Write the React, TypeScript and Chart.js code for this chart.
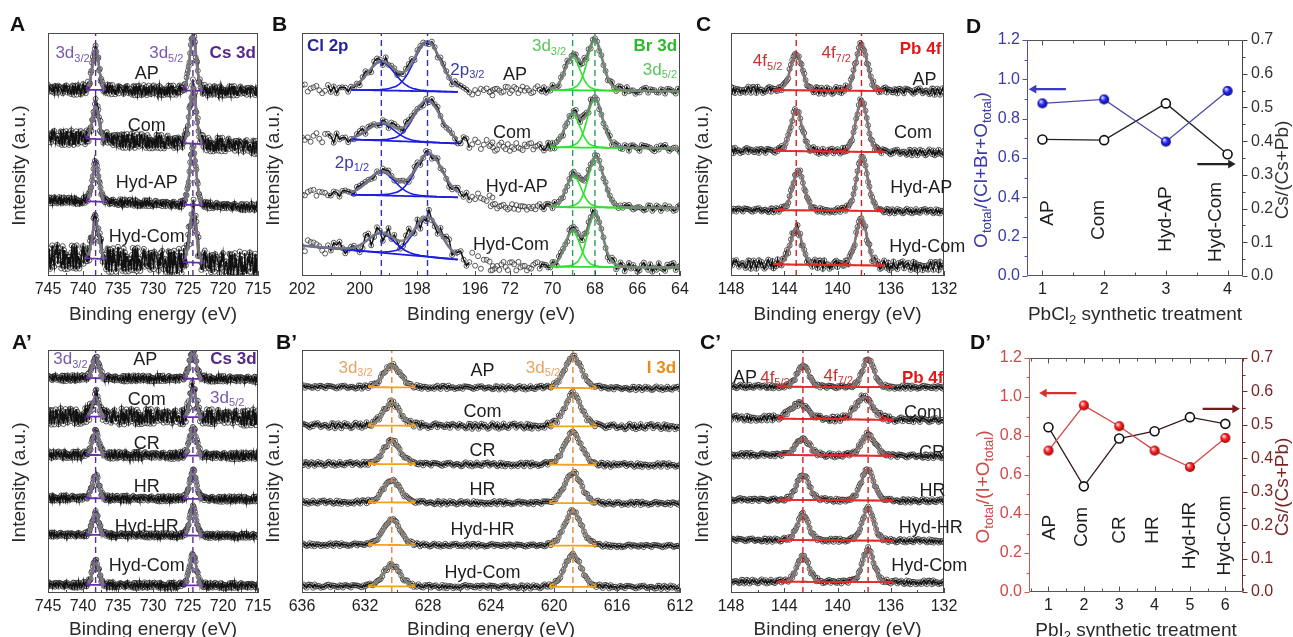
import React, { useEffect, useRef } from 'react';
import { Chart, registerables } from 'chart.js';

Chart.register(...registerables);
const FONT = '"Liberation Sans", Arial, Helvetica, sans-serif';
Chart.defaults.font.family = FONT;

/* ============================ DATA ============================ */

// Normalised line shape of the fitted components (offset in half-widths -> relative height)
const SHAPE_U = [0, 0.25, 0.5, 0.75, 1, 1.25, 1.5, 1.75, 2, 2.5, 3, 4];
const SHAPE_V = [1, 0.955, 0.835, 0.672, 0.5, 0.345, 0.225, 0.14, 0.085, 0.035, 0.015, 0];

// Counting scatter of the raw traces (fractions of each trace's scatter amplitude)
const SCATTER = [
  0.42, -0.71, 0.15, 0.88, -0.33, -0.95, 0.61, 0.07, -0.52, 0.29,
  -0.18, 0.76, -0.84, 0.33, 0.55, -0.27, -0.63, 0.91, -0.05, 0.38,
  -0.79, 0.12, 0.67, -0.41, 0.24, -0.92, 0.49, 0.81, -0.14, -0.58,
  0.35, -0.22, 0.73, -0.67, 0.04, 0.96, -0.37, -0.81, 0.58, 0.19,
  -0.46, 0.84, -0.09, 0.27, -0.74, 0.63, -0.31, 0.11, 0.92, -0.56,
  0.21, -0.88, 0.45, 0.69, -0.12, -0.49, 0.78, -0.26, 0.36, -0.97,
  0.53, 0.08, -0.65, 0.31, 0.86, -0.39, -0.17, 0.71, -0.83, 0.26,
  0.6, -0.44, 0.02, -0.71, 0.94, 0.17, -0.29, 0.48, -0.61, 0.83,
  -0.07, 0.39, -0.9, 0.64, 0.13, -0.53, 0.77, -0.35, 0.22, -0.19,
  0.51, -0.76, 0.87, 0.05, -0.43, 0.66, -0.24, 0.32, -0.86, 0.44, 0.1,
];

// ---- A : Cs 3d (PbCl2 series) ----
const A_SAMPLES = ['AP', 'Com', 'Hyd-AP', 'Hyd-Com'];
const A_TICKS = [745, 740, 735, 730, 725, 720, 715];
const A_POS_32 = [738.2, 738.2, 738.2, 738.2];
const A_POS_52 = [724.3, 724.3, 724.3, 724.3];
const A_H_32 = [16.7, 13.6, 16.0, 15.9];
const A_H_52 = [23.0, 23.4, 24.0, 21.6];
const A_BG_HI = [76.8, 57.3, 31.3, 7.9];
const A_BG_LO = [76.0, 53.2, 28.3, 4.5];
const A_HWHM = [0.55, 0.55, 0.55, 0.55];
const A_SCAT = [2.2, 3.2, 1.4, 5.5];
const A_NAME_Y = [83.1, 61.7, 38.1, 16.2];

// ---- B : Cl 2p + Br 3d (PbCl2 series) ----
const B_SAMPLES = ['AP', 'Com', 'Hyd-AP', 'Hyd-Com'];
const B_CL_TICKS = [202, 200, 198, 196];
const B_BR_TICKS = [72, 70, 68, 66, 64];
const CL_POS_12 = [199.25, 199.25, 199.25, 199.25];
const CL_POS_32 = [197.65, 197.65, 197.6, 197.65];
const CL_H_12 = [11.8, 7.0, 9.7, 8.0];
const CL_H_32 = [20.4, 17.4, 17.8, 16.5];
const CL_BG_HI = [77.0, 57.0, 34.0, 12.5];
const CL_BG_LO = [75.5, 54.0, 32.0, 5.5];
const CL_HWHM = [0.55, 0.55, 0.55, 0.55];
const CL_SCAT = [2.0, 2.2, 1.8, 3.5];
const CL_FIT_HI = [200.3, 200.3, 200.3, 202.0];
const BR_POS_32 = [69.05, 69.05, 69.0, 69.05];
const BR_POS_52 = [68.0, 68.0, 67.95, 68.0];
const BR_H_32 = [13.6, 13.7, 12.8, 14.7];
const BR_H_52 = [20.6, 20.1, 20.6, 21.9];
const BR_BG_HI = [76.8, 53.2, 28.5, 4.0];
const BR_BG_LO = [76.0, 52.5, 28.0, 3.5];
const BR_HWHM = [0.42, 0.42, 0.42, 0.42];
const BR_SCAT = [1.5, 1.8, 1.3, 2.0];
const B_NAME_E = [71.76, 71.9, 71.68, 71.95];
const B_NAME_Y = [82.7, 59.0, 36.7, 12.8];

// ---- C : Pb 4f (PbCl2 series) ----
const C_SAMPLES = ['AP', 'Com', 'Hyd-AP', 'Hyd-Com'];
const C_TICKS = [148, 144, 140, 136, 132];
const PB_POS_52 = [143.1, 143.1, 142.95, 143.1];
const PB_POS_72 = [138.2, 138.2, 138.15, 138.2];
const PB_H_52 = [15.3, 17.1, 16.7, 15.1];
const PB_H_72 = [19.4, 21.2, 22.2, 19.2];
const PB_BG_HI = [76.6, 51.6, 27.2, 5.0];
const PB_BG_LO = [76.0, 50.8, 26.6, 4.0];
const PB_HWHM = [0.5, 0.5, 0.5, 0.5];
const PB_SCAT = [1.5, 1.3, 1.0, 2.0];
const C_NAME_E = [133.47, 134.33, 133.7, 133.25];
const C_NAME_Y = [80.7, 58.7, 36.1, 12.1];

// ---- D : ratios (PbCl2 series) ----
const D_X = [1, 2, 3, 4];
const D_CATS = ['AP', 'Com', 'Hyd-AP', 'Hyd-Com'];
const D_O = [0.878, 0.898, 0.683, 0.941];
const D_CS = [0.405, 0.403, 0.512, 0.361];
const D_CAT_X = [1.08, 1.92, 3.0, 3.81];
const D_CAT_Y = [0.32, 0.285, 0.29, 0.275];
const D_LEFT_TICKS = [0, 0.2, 0.4, 0.6, 0.8, 1.0, 1.2];
const D_RIGHT_TICKS = [0, 0.1, 0.2, 0.3, 0.4, 0.5, 0.6, 0.7];

// ---- A' : Cs 3d (PbI2 series) ----
const P_SAMPLES = ['AP', 'Com', 'CR', 'HR', 'Hyd-HR', 'Hyd-Com'];
const A2_POS_32 = [738.2, 738.2, 738.2, 738.2, 738.2, 738.2];
const A2_POS_52 = [724.3, 724.3, 724.3, 724.3, 724.3, 724.3];
const A2_H_32 = [8.5, 8.3, 9.6, 9.6, 8.9, 9.9];
const A2_H_52 = [11.5, 11.4, 11.7, 11.6, 11.7, 13.1];
const A2_BG_HI = [88.5, 72.7, 56.9, 39.1, 24.0, 3.4];
const A2_BG_LO = [88.0, 72.2, 56.4, 38.6, 23.5, 3.0];
const A2_HWHM = [0.55, 0.55, 0.55, 0.55, 0.55, 0.55];
const A2_SCAT = [1.3, 3.5, 1.5, 1.2, 1.0, 1.2];
const A2_NAME_Y = [96.0, 79.5, 61.3, 43.5, 27.0, 11.0];

// ---- B' : I 3d (PbI2 series) ----
const BP_TICKS = [636, 632, 628, 624, 620, 616, 612];
const I_POS_32 = [630.3, 630.3, 630.3, 630.3, 630.3, 630.3];
const I_POS_52 = [618.8, 618.8, 618.8, 618.8, 618.8, 618.8];
const I_H_32 = [9.2, 9.6, 9.5, 9.2, 10.6, 8.9];
const I_H_52 = [13.0, 13.3, 13.3, 12.7, 14.4, 13.2];
const I_BG_HI = [84.8, 69.0, 53.2, 37.4, 19.9, 2.8];
const I_BG_LO = [84.2, 68.4, 52.6, 36.8, 19.3, 2.4];
const I_HWHM = [0.62, 0.62, 0.62, 0.62, 0.62, 0.62];
const I_SCAT = [0.8, 1.2, 0.9, 0.8, 0.7, 0.8];
const BP_NAME_Y = [91.2, 74.4, 58.6, 42.5, 26.1, 8.2];

// ---- C' : Pb 4f (PbI2 series) ----
const PB2_POS_52 = [142.6, 142.9, 142.6, 142.6, 142.6, 142.6];
const PB2_POS_72 = [137.7, 138.0, 137.7, 137.75, 137.7, 137.7];
const PB2_H_52 = [9.0, 6.2, 6.9, 10.6, 10.6, 11.0];
const PB2_H_72 = [11.7, 9.4, 8.9, 12.8, 13.4, 13.7];
const PB2_BG_HI = [85.0, 72.0, 56.9, 38.4, 21.9, 4.8];
const PB2_BG_LO = [84.6, 71.0, 56.3, 37.9, 21.4, 4.3];
const PB2_HWHM = [0.5, 0.75, 0.6, 0.55, 0.5, 0.5];
const PB2_SCAT = [0.8, 1.2, 0.9, 0.8, 0.8, 0.9];
const CP_NAME_E = [147.85, 133.58, 132.9, 132.87, 133.0, 133.1];
const CP_NAME_Y = [88.5, 74.0, 57.6, 41.9, 26.7, 11.0];

// ---- D' : ratios (PbI2 series) ----
const D2_X = [1, 2, 3, 4, 5, 6];
const D2_CATS = ['AP', 'Com', 'CR', 'HR', 'Hyd-HR', 'Hyd-Com'];
const D2_O = [0.725, 0.957, 0.85, 0.725, 0.641, 0.79];
const D2_CS = [0.493, 0.316, 0.459, 0.481, 0.523, 0.503];
const D2_CAT_X = [1.03, 1.93, 3.01, 3.95, 4.99, 5.98];
const D2_CAT_Y = [0.331, 0.333, 0.318, 0.318, 0.29, 0.29];

/* ============================ HELPERS ============================ */

function lineShape(u: number): number {
  const a = Math.abs(u);
  const n = SHAPE_U.length;
  if (a >= SHAPE_U[n - 1]) return 0;
  for (let i = 1; i < n; i++) {
    if (a <= SHAPE_U[i]) {
      const t = (a - SHAPE_U[i - 1]) / (SHAPE_U[i] - SHAPE_U[i - 1]);
      return SHAPE_V[i - 1] + t * (SHAPE_V[i] - SHAPE_V[i - 1]);
    }
  }
  return 0;
}

function energies(hi: number, lo: number, step: number): number[] {
  const n = Math.round((hi - lo) / step);
  const out: number[] = [];
  for (let i = 0; i <= n; i++) out.push(+(hi - i * step).toFixed(4));
  return out;
}

type Ann = { t: string; x: number; y: number; c?: string; s?: number; b?: boolean; a?: 'left' | 'center' | 'right' };

type Region = {
  hi: number; lo: number; step: number;
  lineHi: number; lineLo: number;
  fitHi: number[]; fitLo: number;
  pos: number[][]; h: number[][];
  bgHi: number[]; bgLo: number[];
  hwhm: number[]; scat: number[];
  envSpan: number | null; compSpan: number | null;
  compColor: string; dashColor: string; dashAt: number[];
  map: (e: number) => number; seed: number;
};

type Panel = {
  l: number; r: number; row: 1 | 2;
  xMin: number; xMax: number; reverse: boolean;
  ticks: { v: number; label: string }[]; minor: number[];
  regions: Region[]; texts: Ann[];
};

function buildRegion(r: Region): any[] {
  const out: any[] = [];
  for (let k = 0; k < r.bgHi.length; k++) {
    const bg = (e: number) => r.bgHi[k] + (r.bgLo[k] - r.bgHi[k]) * (r.hi - e) / (r.hi - r.lo);
    const comp = (p: number, e: number) => r.h[p][k] * lineShape((e - r.pos[p][k]) / r.hwhm[k]);
    const env = (e: number) => {
      let s = bg(e);
      for (let p = 0; p < r.pos.length; p++) s += comp(p, e);
      return s;
    };
    const es = energies(r.hi, r.lo, r.step);
    const raw = es.map((e, i) => ({
      x: r.map(e),
      y: env(e) + r.scat[k] * SCATTER[(i * 37 + Math.floor(i / 101) * 13 + k * 23 + r.seed) % SCATTER.length],
    }));
    const trace = raw.filter((_, i) => es[i] <= r.lineHi + 1e-6 && es[i] >= r.lineLo - 1e-6);
    out.push({
      data: raw, showLine: false, pointRadius: 2.5, pointBorderWidth: 0.8,
      pointBorderColor: 'rgba(30,30,30,0.9)', pointBackgroundColor: 'rgba(255,255,255,0.25)', order: 6,
    });
    out.push({ data: trace, showLine: true, borderColor: '#111', borderWidth: 1.5, pointRadius: 0, order: 5 });

    // fitted background + components (coloured)
    const compRanges = r.compSpan === null
      ? [[r.fitHi[k], r.fitLo]]
      : r.pos.map((pk) => [pk[k] + (r.compSpan as number), pk[k] - (r.compSpan as number)]);
    for (const [h, l] of compRanges) {
      out.push({
        data: energies(h, l, r.step).map((e) => ({ x: r.map(e), y: bg(e) })),
        showLine: true, borderColor: r.compColor, borderWidth: 1.8, pointRadius: 0, order: 4,
      });
    }
    for (let p = 0; p < r.pos.length; p++) {
      const [h, l] = r.compSpan === null ? compRanges[0] : compRanges[p];
      out.push({
        data: energies(h, l, r.step / 2).map((e) => ({ x: r.map(e), y: bg(e) + comp(p, e) })),
        showLine: true, borderColor: r.compColor, borderWidth: 1.6, pointRadius: 0, order: 4,
      });
    }
    // fitted envelope (grey)
    const envRanges = r.envSpan === null
      ? [[r.fitHi[k], r.fitLo]]
      : r.pos.map((pk) => [pk[k] + (r.envSpan as number), pk[k] - (r.envSpan as number)]);
    for (const [h, l] of envRanges) {
      out.push({
        data: energies(h, l, r.step / 2).map((e) => ({ x: r.map(e), y: env(e) })),
        showLine: true, borderColor: 'rgba(125,125,125,0.88)', borderWidth: 2.7, pointRadius: 0, order: 3,
      });
    }
  }
  for (const d of r.dashAt) {
    out.push({
      data: [{ x: r.map(d), y: 0 }, { x: r.map(d), y: 100 }], showLine: true,
      borderColor: r.dashColor, borderWidth: 1.4, borderDash: [6, 4], pointRadius: 0, order: 1,
    });
  }
  return out;
}

function parseRich(t: string) {
  const segs: { t: string; sub: boolean; w?: number }[] = [];
  const re = /_\{([^}]*)\}/g;
  let last = 0;
  let m: RegExpExecArray | null;
  while ((m = re.exec(t))) {
    if (m.index > last) segs.push({ t: t.slice(last, m.index), sub: false });
    segs.push({ t: m[1], sub: true });
    last = re.lastIndex;
  }
  if (last < t.length) segs.push({ t: t.slice(last), sub: false });
  return segs;
}

function drawRich(ctx: CanvasRenderingContext2D, text: string, x: number, y: number,
  o: { size: number; color: string; bold?: boolean; align?: string; rot?: number }) {
  const segs = parseRich(text);
  const fontOf = (sub: boolean) => `${o.bold ? 'bold ' : ''}${sub ? Math.round(o.size * 0.66) : o.size}px ${FONT}`;
  let w = 0;
  for (const s of segs) { ctx.font = fontOf(s.sub); s.w = ctx.measureText(s.t).width; w += s.w; }
  ctx.save();
  ctx.translate(x, y);
  if (o.rot) ctx.rotate(o.rot);
  let cx = o.align === 'left' ? 0 : o.align === 'right' ? -w : -w / 2;
  ctx.fillStyle = o.color;
  ctx.textBaseline = 'middle';
  ctx.textAlign = 'left';
  for (const s of segs) {
    ctx.font = fontOf(s.sub);
    ctx.fillText(s.t, cx, s.sub ? o.size * 0.3 : 0);
    cx += s.w as number;
  }
  ctx.restore();
}

function seg(ctx: CanvasRenderingContext2D, x1: number, y1: number, x2: number, y2: number, color: string, w = 1) {
  ctx.strokeStyle = color;
  ctx.lineWidth = w;
  ctx.beginPath();
  ctx.moveTo(x1, y1);
  ctx.lineTo(x2, y2);
  ctx.stroke();
}

const names = (list: string[], xs: number[], ys: number[], a?: 'left' | 'center' | 'right'): Ann[] =>
  list.map((t, i) => ({ t, x: xs[i], y: ys[i], s: 18, c: '#1e1e1e', a }));
const list0 = (n: number) => Array.from({ length: n }, (_, i) => i);
const same = (v: number, n: number) => list0(n).map(() => v);

/* ============================ PANELS ============================ */

const id = (e: number) => e;
const CL_END = 0.458;   // fraction of the broken axis used by the Cl 2p segment
const BR_START = 0.55;  // fraction where the Br 3d segment begins
const uCl = (e: number) => (B_CL_TICKS[0] - e) / (B_CL_TICKS[0] - B_CL_TICKS[3]) * CL_END;
const uBr = (e: number) => BR_START + (B_BR_TICKS[0] - e) / (B_BR_TICKS[0] - B_BR_TICKS[4]) * (1 - BR_START);

const PURPLE_T = '#7b5aa9';
const PURPLE_B = '#56288a';

const panelA: Panel = {
  l: 48, r: 258, row: 1, xMin: 715, xMax: 745, reverse: true,
  ticks: A_TICKS.map((v) => ({ v, label: String(v) })),
  minor: [742.5, 737.5, 732.5, 727.5, 722.5, 717.5],
  regions: [{
    hi: 745, lo: 715, step: 0.1, lineHi: 745, lineLo: 715, fitHi: same(740, 4), fitLo: 722,
    pos: [A_POS_32, A_POS_52], h: [A_H_32, A_H_52], bgHi: A_BG_HI, bgLo: A_BG_LO,
    hwhm: A_HWHM, scat: A_SCAT, envSpan: 1.1, compSpan: 1.4,
    compColor: '#6a2fb0', dashColor: '#5a2d91', dashAt: [738.2, 724.3], map: id, seed: 3,
  }],
  texts: [
    { t: '3d_{3/2}', x: 741.5, y: 91.6, c: PURPLE_T, s: 17 },
    { t: '3d_{5/2}', x: 728.1, y: 91.6, c: PURPLE_T, s: 17 },
    { t: 'Cs 3d', x: 715.3, y: 91.6, c: PURPLE_B, s: 17, b: true, a: 'right' },
    ...names(A_SAMPLES, same(730.9, 4), A_NAME_Y),
  ],
};

const panelB: Panel = {
  l: 302, r: 680, row: 1, xMin: 0, xMax: 1, reverse: false,
  ticks: [
    ...B_CL_TICKS.map((v) => ({ v: uCl(v), label: String(v) })),
    ...B_BR_TICKS.map((v) => ({ v: uBr(v), label: String(v) })),
  ],
  minor: [...[201, 199, 197].map(uCl), ...[71, 69, 67, 65].map(uBr)],
  regions: [
    {
      hi: 202, lo: 195.4, step: 0.1, lineHi: 201.1, lineLo: 196.2, fitHi: CL_FIT_HI, fitLo: 196.6,
      pos: [CL_POS_12, CL_POS_32], h: [CL_H_12, CL_H_32], bgHi: CL_BG_HI, bgLo: CL_BG_LO,
      hwhm: CL_HWHM, scat: CL_SCAT, envSpan: null, compSpan: null,
      compColor: '#1e1ee0', dashColor: '#3030b8', dashAt: [199.25, 197.65], map: uCl, seed: 11,
    },
    {
      hi: 72.9, lo: 64, step: 0.1, lineHi: 70.6, lineLo: 64, fitHi: same(70.1, 4), fitLo: 64,
      pos: [BR_POS_32, BR_POS_52], h: [BR_H_32, BR_H_52], bgHi: BR_BG_HI, bgLo: BR_BG_LO,
      hwhm: BR_HWHM, scat: BR_SCAT, envSpan: null, compSpan: null,
      compColor: '#2fe02f', dashColor: '#2e9e5e', dashAt: [69.05, 68.0], map: uBr, seed: 29,
    },
  ],
  texts: [
    { t: 'Cl 2p', x: uCl(201.83), y: 94.4, c: '#26269a', s: 17, b: true, a: 'left' },
    { t: '2p_{3/2}', x: uCl(196.27), y: 84.8, c: '#3b3ba8', s: 17 },
    { t: '2p_{1/2}', x: uCl(200.27), y: 46.4, c: '#3b3ba8', s: 17 },
    { t: '3d_{3/2}', x: uBr(70.16), y: 94.4, c: '#5cc45c', s: 17 },
    { t: 'Br 3d', x: uBr(64.14), y: 94.4, c: '#2cb82c', s: 17, b: true, a: 'right' },
    { t: '3d_{5/2}', x: uBr(64.14), y: 84.8, c: '#5cc45c', s: 17, a: 'right' },
    ...names(B_SAMPLES, B_NAME_E.map(uBr), B_NAME_Y),
  ],
};

const panelC: Panel = {
  l: 731, r: 944, row: 1, xMin: 132, xMax: 148, reverse: true,
  ticks: C_TICKS.map((v) => ({ v, label: String(v) })),
  minor: [146, 142, 138, 134],
  regions: [{
    hi: 148, lo: 132, step: 0.1, lineHi: 148, lineLo: 132, fitHi: same(144.8, 4), fitLo: 136.5,
    pos: [PB_POS_52, PB_POS_72], h: [PB_H_52, PB_H_72], bgHi: PB_BG_HI, bgLo: PB_BG_LO,
    hwhm: PB_HWHM, scat: PB_SCAT, envSpan: 1.1, compSpan: null,
    compColor: '#e42a2a', dashColor: '#d42020', dashAt: [143.1, 138.2], map: id, seed: 41,
  }],
  texts: [
    { t: '4f_{5/2}', x: 145.25, y: 88.2, c: '#c83232', s: 17 },
    { t: '4f_{7/2}', x: 140.1, y: 91.6, c: '#c83232', s: 17 },
    { t: 'Pb 4f', x: 132.2, y: 93.3, c: '#e01818', s: 17, b: true, a: 'right' },
    ...names(C_SAMPLES, C_NAME_E, C_NAME_Y),
  ],
};

const panelA2: Panel = {
  l: 48, r: 258, row: 2, xMin: 715, xMax: 745, reverse: true,
  ticks: A_TICKS.map((v) => ({ v, label: String(v) })),
  minor: [742.5, 737.5, 732.5, 727.5, 722.5, 717.5],
  regions: [{
    hi: 745, lo: 715, step: 0.1, lineHi: 745, lineLo: 715, fitHi: same(740, 6), fitLo: 722,
    pos: [A2_POS_32, A2_POS_52], h: [A2_H_32, A2_H_52], bgHi: A2_BG_HI, bgLo: A2_BG_LO,
    hwhm: A2_HWHM, scat: A2_SCAT, envSpan: 1.1, compSpan: 1.4,
    compColor: '#6a2fb0', dashColor: '#5a2d91', dashAt: [738.2, 724.3], map: id, seed: 53,
  }],
  texts: [
    { t: '3d_{3/2}', x: 741.8, y: 96.0, c: PURPLE_T, s: 17 },
    { t: 'Cs 3d', x: 715.2, y: 96.0, c: PURPLE_B, s: 17, b: true, a: 'right' },
    { t: '3d_{5/2}', x: 719.4, y: 80.2, c: PURPLE_T, s: 17 },
    ...names(P_SAMPLES, [731.1, 730.9, 730.9, 730.9, 730.9, 730.9], A2_NAME_Y),
  ],
};

const panelB2: Panel = {
  l: 302, r: 680, row: 2, xMin: 612, xMax: 636, reverse: true,
  ticks: BP_TICKS.map((v) => ({ v, label: String(v) })),
  minor: [634, 630, 626, 622, 618, 614],
  regions: [{
    hi: 636, lo: 612, step: 0.1, lineHi: 636, lineLo: 612, fitHi: same(633, 6), fitLo: 616,
    pos: [I_POS_32, I_POS_52], h: [I_H_32, I_H_52], bgHi: I_BG_HI, bgLo: I_BG_LO,
    hwhm: I_HWHM, scat: I_SCAT, envSpan: 1.2, compSpan: 1.5,
    compColor: '#f5a21e', dashColor: '#e0883a', dashAt: [630.3, 618.8], map: id, seed: 67,
  }],
  texts: [
    { t: '3d_{3/2}', x: 632.6, y: 92.6, c: '#e8a262', s: 17 },
    { t: '3d_{5/2}', x: 620.7, y: 92.6, c: '#e8a262', s: 17 },
    { t: 'I 3d', x: 612.25, y: 92.6, c: '#ea8c16', s: 17, b: true, a: 'right' },
    ...names(P_SAMPLES, same(624.54, 6), BP_NAME_Y),
  ],
};

const panelC2: Panel = {
  l: 731, r: 944, row: 2, xMin: 132, xMax: 148, reverse: true,
  ticks: C_TICKS.map((v) => ({ v, label: String(v) })),
  minor: [146, 142, 138, 134],
  regions: [{
    hi: 148, lo: 132, step: 0.1, lineHi: 148, lineLo: 132, fitHi: same(144.5, 6), fitLo: 135.8,
    pos: [PB2_POS_52, PB2_POS_72], h: [PB2_H_52, PB2_H_72], bgHi: PB2_BG_HI, bgLo: PB2_BG_LO,
    hwhm: PB2_HWHM, scat: PB2_SCAT, envSpan: 1.2, compSpan: null,
    compColor: '#e42a2a', dashColor: '#d42020', dashAt: [142.6, 137.7], map: id, seed: 79,
  }],
  texts: [
    { t: '4f_{5/2}', x: 144.7, y: 88.5, c: '#c83232', s: 17 },
    { t: '4f_{7/2}', x: 139.94, y: 89.2, c: '#c83232', s: 17 },
    { t: 'Pb 4f', x: 132.04, y: 88.5, c: '#e01818', s: 17, b: true, a: 'right' },
    { t: 'AP', x: CP_NAME_E[0], y: CP_NAME_Y[0], s: 18, c: '#1e1e1e', a: 'left' },
    ...names(P_SAMPLES.slice(1), CP_NAME_E.slice(1), CP_NAME_Y.slice(1)),
  ],
};

const SPECTRA: Panel[] = [panelA, panelB, panelC, panelA2, panelB2, panelC2];

const ROWS: any = {
  1: { top: 33, bottom: 276, cTop: 0, cH: 326, titleGap: 39 },
  2: { top: 350, bottom: 593, cTop: 317, cH: 320, titleGap: 37 },
};
const PAD_L = 44;
const PAD_R = 32;

function canvasBox(p: Panel) {
  const row = ROWS[p.row];
  return { x: p.l - PAD_L, y: row.cTop, w: p.r - p.l + PAD_L + PAD_R, h: row.cH };
}

function spectrumChart(canvas: HTMLCanvasElement, p: Panel) {
  const row = ROWS[p.row];
  const padT = row.top - row.cTop;
  const padB = row.cH - padT - (row.bottom - row.top);
  const datasets = p.regions.flatMap(buildRegion);
  const decor = {
    id: 'decor',
    afterDatasetsDraw(chart: any) {
      const { ctx, chartArea: a, scales } = chart;
      ctx.save();
      ctx.strokeStyle = '#4a4a4a';
      ctx.lineWidth = 1;
      ctx.strokeRect(a.left + 0.5, a.top + 0.5, a.right - a.left - 1, a.bottom - a.top - 1);
      for (const t of p.ticks) {
        const x = Math.round(scales.x.getPixelForValue(t.v)) + 0.5;
        seg(ctx, x, a.bottom, x, a.bottom - 5, '#4a4a4a');
      }
      for (const m of p.minor) {
        const x = Math.round(scales.x.getPixelForValue(m)) + 0.5;
        seg(ctx, x, a.bottom, x, a.bottom - 3, '#4a4a4a');
      }
      ctx.restore();
    },
    afterDraw(chart: any) {
      const { ctx, chartArea: a, scales } = chart;
      for (const t of p.texts) {
        drawRich(ctx, t.t, scales.x.getPixelForValue(t.x), scales.y.getPixelForValue(t.y),
          { size: t.s || 17, color: t.c || '#222', bold: t.b, align: t.a || 'center' });
      }
      drawRich(ctx, 'Intensity (a.u.)', a.left - 28, (a.top + a.bottom) / 2 + 11,
        { size: 19, color: '#2a2a2a', rot: -Math.PI / 2 });
      drawRich(ctx, 'Binding energy (eV)', (a.left + a.right) / 2, a.bottom + row.titleGap,
        { size: 19, color: '#2a2a2a' });
    },
  };
  return new Chart(canvas, {
    type: 'scatter',
    data: { datasets },
    options: {
      animation: false, responsive: false, events: [],
      layout: { padding: { left: PAD_L, right: PAD_R, top: padT, bottom: 0 } },
      plugins: { legend: { display: false }, tooltip: { enabled: false } },
      scales: {
        x: {
          type: 'linear', min: p.xMin, max: p.xMax, reverse: p.reverse,
          afterBuildTicks: (s: any) => { s.ticks = p.ticks.map((t) => ({ value: t.v })); },
          afterFit: (s: any) => { s.height = padB; s.paddingLeft = 0; s.paddingRight = 0; },
          ticks: {
            autoSkip: false, maxRotation: 0, minRotation: 0, padding: 4, color: '#222',
            font: { size: 16 }, callback: (_v: any, i: number) => p.ticks[i].label,
          },
          grid: { display: false, drawTicks: false },
          border: { display: false },
        },
        y: { display: false, min: 0, max: 100 },
      },
    } as any,
    plugins: [decor],
  });
}

/* ============================ RATIO PANELS ============================ */

type Ratio = {
  l: number; t: number; r: number; b: number; cx: number; cy: number; cw: number; ch: number;
  xs: number[]; cats: string[]; catX: number[]; catY: number[]; o: number[]; cs: number[];
  xMin: number; xMax: number;
  arrowO: { x: number[]; y: number }; arrowCs: { x: number[]; y: number };
  leftColor: string; leftText: string; rightColor: string; rightText: string;
  oLine: string; csLine: string; arrowOColor: string; arrowCsColor: string; sphere: string[];
  yTitle: string; y2Title: string; xTitle: string;
};

const ratioD: Ratio = {
  l: 1027, t: 40, r: 1243, b: 276, cx: 960, cy: 0, cw: 333, ch: 330,
  xs: D_X, cats: D_CATS, catX: D_CAT_X, catY: D_CAT_Y, o: D_O, cs: D_CS, xMin: 0.75, xMax: 4.25,
  arrowO: { x: [1.38, 0.86], y: 0.95 }, arrowCs: { x: [3.51, 4.05], y: 0.332 },
  leftColor: '#5050a8', leftText: '#3a3aa8', rightColor: '#444', rightText: '#333',
  oLine: '#4a4aa6', csLine: '#222', arrowOColor: '#3a3ac4', arrowCsColor: '#222',
  sphere: ['#dcdcff', '#2a2aff', '#0a0a7a'],
  yTitle: 'O_{total}/(Cl+Br+O_{total})', y2Title: 'Cs/(Cs+Pb)', xTitle: 'PbCl_{2} synthetic treatment',
};

const ratioD2: Ratio = {
  l: 1029, t: 358, r: 1243, b: 592, cx: 960, cy: 317, cw: 333, ch: 320,
  xs: D2_X, cats: D2_CATS, catX: D2_CAT_X, catY: D2_CAT_Y, o: D2_O, cs: D2_CS, xMin: 0.45, xMax: 6.5,
  arrowO: { x: [1.79, 0.88], y: 1.02 }, arrowCs: { x: [5.36, 6.27], y: 0.548 },
  leftColor: '#c85a5a', leftText: '#d04848', rightColor: '#7a2a2a', rightText: '#7a2424',
  oLine: '#d04848', csLine: '#3a1a1a', arrowOColor: '#d83030', arrowCsColor: '#7a1a1a',
  sphere: ['#ffe0e0', '#ff2a2a', '#9a0000'],
  yTitle: 'O_{total}/(I+O_{total})', y2Title: 'Cs/(Cs+Pb)', xTitle: 'PbI_{2} synthetic treatment',
};

function makeSphere(c: string[], r: number): HTMLCanvasElement {
  const cv = document.createElement('canvas');
  const s = Math.ceil(2 * r + 2);
  cv.width = s;
  cv.height = s;
  const g = cv.getContext('2d') as CanvasRenderingContext2D;
  const m = s / 2;
  const grad = g.createRadialGradient(m - r * 0.35, m - r * 0.4, r * 0.1, m, m, r);
  grad.addColorStop(0, c[0]);
  grad.addColorStop(0.45, c[1]);
  grad.addColorStop(1, c[2]);
  g.fillStyle = grad;
  g.beginPath();
  g.arc(m, m, r, 0, Math.PI * 2);
  g.fill();
  return cv;
}

function ratioChart(canvas: HTMLCanvasElement, R: Ratio) {
  const padT = R.t - R.cy;
  const xH = R.cy + R.ch - R.b;
  const yW = R.l - R.cx;
  const y2W = R.cx + R.cw - R.r;
  const sphere = makeSphere(R.sphere, 5);
  const decor = {
    id: 'ratioDecor',
    afterDatasetsDraw(chart: any) {
      const { ctx, chartArea: a, scales } = chart;
      ctx.save();
      const L = Math.round(a.left) + 0.5, Rr = Math.round(a.right) - 0.5;
      const T = Math.round(a.top) + 0.5, B = Math.round(a.bottom) - 0.5;
      seg(ctx, L, T, Rr, T, '#555');
      seg(ctx, L, B, Rr, B, '#555');
      seg(ctx, L, T, L, B, R.leftColor);
      seg(ctx, Rr, T, Rr, B, R.rightColor);
      for (let v = Math.ceil(R.xMin * 2) / 2; v <= R.xMax; v += 0.5) {
        const x = Math.round(scales.x.getPixelForValue(v)) + 0.5;
        const len = Number.isInteger(v) ? 5 : 3;
        seg(ctx, x, B, x, B - len, '#555');
        seg(ctx, x, T, x, T + len, '#555');
      }
      for (let i = 0; i <= 12; i++) {
        const y = Math.round(scales.y.getPixelForValue(i * 0.1)) + 0.5;
        seg(ctx, L, y, L - (i % 2 === 0 ? 5 : 3), y, R.leftColor);
      }
      for (let i = 0; i <= 14; i++) {
        const y = Math.round(scales.y2.getPixelForValue(i * 0.05)) + 0.5;
        seg(ctx, Rr, y, Rr + (i % 2 === 0 ? 5 : 3), y, R.rightColor);
      }
      ctx.restore();
    },
    afterDraw(chart: any) {
      const { ctx, chartArea: a, scales } = chart;
      R.cats.forEach((c, i) => {
        drawRich(ctx, c, scales.x.getPixelForValue(R.catX[i]), scales.y.getPixelForValue(R.catY[i]),
          { size: 19, color: '#1e1e1e', rot: -Math.PI / 2 });
      });
      const mid = (a.top + a.bottom) / 2 + 12;
      drawRich(ctx, R.yTitle, a.left - 45, mid, { size: 19, color: R.leftText, rot: -Math.PI / 2 });
      drawRich(ctx, R.y2Title, a.right + 40, mid, { size: 19, color: R.rightText, rot: -Math.PI / 2 });
      drawRich(ctx, R.xTitle, (a.left + a.right) / 2, a.bottom + 39, { size: 19, color: '#2a2a2a' });
    },
  };
  const arrow = (A: { x: number[]; y: number }, axis: string, color: string, rot: number) => ({
    data: A.x.map((x) => ({ x, y: A.y })), yAxisID: axis, borderColor: color, backgroundColor: color,
    borderWidth: 2.2, pointRadius: [0, 5], pointStyle: 'triangle', pointRotation: [0, rot],
    pointBorderWidth: 0, pointBackgroundColor: color, order: 0,
  });
  return new Chart(canvas, {
    type: 'line',
    data: {
      datasets: [
        {
          data: R.xs.map((x, i) => ({ x, y: R.o[i] })), yAxisID: 'y', borderColor: R.oLine, borderWidth: 1.3,
          pointStyle: sphere, pointRadius: 5, order: 1,
        },
        {
          data: R.xs.map((x, i) => ({ x, y: R.cs[i] })), yAxisID: 'y2', borderColor: R.csLine, borderWidth: 1.3,
          pointRadius: 4.5, pointBorderWidth: 1.6, pointBackgroundColor: '#fff', pointBorderColor: '#111', order: 2,
        },
        arrow(R.arrowO, 'y', R.arrowOColor, -90),
        arrow(R.arrowCs, 'y2', R.arrowCsColor, 90),
      ],
    },
    options: {
      animation: false, responsive: false, events: [],
      layout: { padding: { left: 0, right: 0, top: padT, bottom: 0 } },
      plugins: { legend: { display: false }, tooltip: { enabled: false } },
      scales: {
        x: {
          type: 'linear', min: R.xMin, max: R.xMax,
          afterBuildTicks: (s: any) => { s.ticks = R.xs.map((v) => ({ value: v })); },
          afterFit: (s: any) => { s.height = xH; s.paddingLeft = 0; s.paddingRight = 0; },
          ticks: { autoSkip: false, maxRotation: 0, padding: 4, color: '#222', font: { size: 16 }, callback: (v: any) => String(v) },
          grid: { display: false, drawTicks: false }, border: { display: false },
        },
        y: {
          position: 'left', min: 0, max: 1.2,
          afterBuildTicks: (s: any) => { s.ticks = D_LEFT_TICKS.map((v) => ({ value: v })); },
          afterFit: (s: any) => { s.width = yW; s.paddingTop = 0; s.paddingBottom = 0; },
          ticks: { padding: 7, color: R.leftText, font: { size: 16 }, callback: (v: any) => Number(v).toFixed(1) },
          grid: { display: false, drawTicks: false }, border: { display: false },
        },
        y2: {
          position: 'right', min: 0, max: 0.7,
          afterBuildTicks: (s: any) => { s.ticks = D_RIGHT_TICKS.map((v) => ({ value: v })); },
          afterFit: (s: any) => { s.width = y2W; s.paddingTop = 0; s.paddingBottom = 0; },
          ticks: { padding: 8, color: R.rightText, font: { size: 16 }, callback: (v: any) => Number(v).toFixed(1) },
          grid: { display: false, drawTicks: false }, border: { display: false },
        },
      },
    } as any,
    plugins: [decor],
  });
}

/* ============================ APP ============================ */

const LETTERS = [
  { t: 'A', x: 22, y: 25 }, { t: 'B', x: 284, y: 25 }, { t: 'C', x: 708, y: 25 }, { t: 'D', x: 978, y: 27 },
  { t: 'A\u2019', x: 24, y: 343 }, { t: 'B\u2019', x: 288, y: 343 }, { t: 'C\u2019', x: 712, y: 343 }, { t: 'D\u2019', x: 982, y: 343 },
];

export default function App() {
  const refs = useRef<(HTMLCanvasElement | null)[]>([]);
  useEffect(() => {
    document.body.style.margin = '0';
    const charts: Chart[] = [];
    SPECTRA.forEach((p, i) => {
      const c = refs.current[i];
      if (c) charts.push(spectrumChart(c, p));
    });
    const d1 = refs.current[6];
    const d2 = refs.current[7];
    if (d1) charts.push(ratioChart(d1, ratioD));
    if (d2) charts.push(ratioChart(d2, ratioD2));
    return () => charts.forEach((c) => c.destroy());
  }, []);

  const boxes = [...SPECTRA.map(canvasBox),
    { x: ratioD.cx, y: ratioD.cy, w: ratioD.cw, h: ratioD.ch },
    { x: ratioD2.cx, y: ratioD2.cy, w: ratioD2.cw, h: ratioD2.ch }];

  return (
    <div style={{ position: 'absolute', left: 0, top: 0, width: 1293, height: 637, background: '#fff', overflow: 'hidden', fontFamily: FONT }}>
      {boxes.map((b, i) => (
        <canvas
          key={i}
          ref={(el) => { refs.current[i] = el; }}
          width={b.w}
          height={b.h}
          style={{ position: 'absolute', left: b.x, top: b.y, width: b.w, height: b.h }}
        />
      ))}
      {LETTERS.map((L) => (
        <div
          key={L.t}
          style={{
            position: 'absolute', left: L.x - 12, top: L.y - 13, width: 30, height: 26, lineHeight: '26px',
            font: `bold 21px ${FONT}`, color: '#111',
          }}
        >
          {L.t}
        </div>
      ))}
    </div>
  );
}
